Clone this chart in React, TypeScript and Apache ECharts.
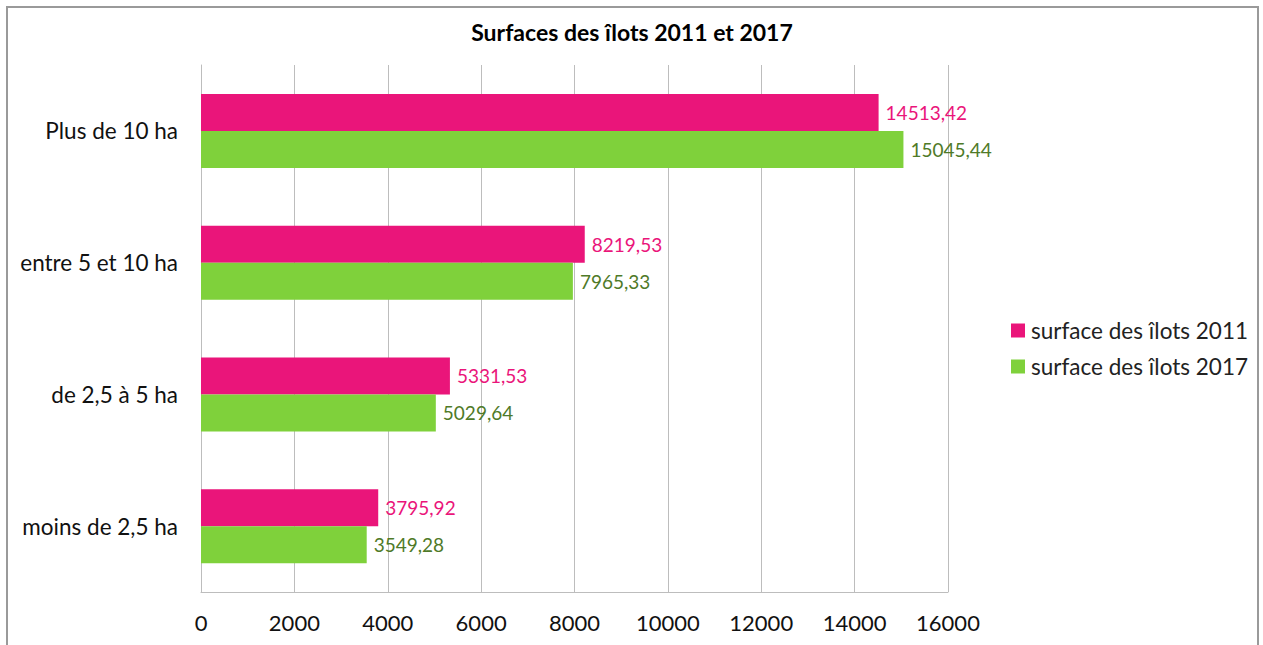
import React, { useEffect, useRef } from "react";
import * as echarts from "echarts";

const categories = ["moins de 2,5 ha", "de 2,5 à 5 ha", "entre 5 et 10 ha", "Plus de 10 ha"];
const values2011 = [3795.92, 5331.53, 8219.53, 14513.42];
const values2017 = [3549.28, 5029.64, 7965.33, 15045.44];
const seriesNames = ["surface des îlots 2011", "surface des îlots 2017"];

const FONT = "Lato, 'Open Sans', sans-serif";
const fmt = (v: number) => v.toFixed(2).replace(".", ",");

export default function App() {
  const ref = useRef<HTMLDivElement>(null);
  useEffect(() => {
    document.body.style.margin = "0";
    const chart = echarts.init(ref.current!, undefined, { renderer: "svg" });
    chart.setOption({
      animation: false,
      backgroundColor: "#ffffff",
      textStyle: { fontFamily: FONT },
      title: {
        text: "Surfaces des îlots 2011 et 2017",
        left: 627,
        textAlign: "center",
        top: 15,
        textStyle: { fontFamily: FONT, fontSize: 23, fontWeight: "bold", color: "#000" },
      },
      graphic: [
        {
          type: "rect",
          shape: { x: 7, y: 7, width: 1251, height: 660 },
          style: { fill: "none", stroke: "#9a9a9a", lineWidth: 2 },
          silent: true,
        },
      ],
      legend: {
        orient: "vertical",
        left: 1006,
        top: 314,
        itemWidth: 14,
        itemHeight: 14,
        itemGap: 13,
        data: seriesNames,
        icon: "rect",
        textStyle: { fontFamily: FONT, fontSize: 22.5, color: "#222", padding: [0, 0, 0, 1] },
      },
      grid: { left: 201, right: 315, top: 65, bottom: 53, containLabel: false },
      xAxis: {
        type: "value",
        min: 0,
        max: 16000,
        interval: 2000,
        axisLine: { show: true, lineStyle: { color: "#bdbdbd", width: 1 } },
        axisTick: { show: false },
        splitLine: { show: true, lineStyle: { color: "#bdbdbd", width: 1 } },
        axisLabel: {
          fontFamily: FONT,
          fontSize: 22,
          color: "#111",
          margin: 19,
          formatter: (v: number) => String(v),
        },
      },
      yAxis: {
        type: "category",
        data: categories,
        axisLine: { show: true, lineStyle: { color: "#bdbdbd", width: 1 } },
        axisTick: { show: false },
        axisLabel: { fontFamily: FONT, fontSize: 22.5, color: "#111", margin: 23 },
      },
      series: [
        {
          name: seriesNames[0],
          type: "bar",
          data: values2011,
          barWidth: 37,
          barGap: "0%",
          itemStyle: { color: "#EA157A" },
          label: {
            show: true,
            position: "right",
            distance: 7,
            formatter: (p: any) => fmt(p.value),
            fontFamily: FONT,
            fontSize: 19,
            color: "#EA157A",
          },
          z: 3,
        },
        {
          name: seriesNames[1],
          type: "bar",
          data: values2017,
          barWidth: 37,
          barGap: "0%",
          itemStyle: { color: "#7FD13B" },
          label: {
            show: true,
            position: "right",
            distance: 7,
            formatter: (p: any) => fmt(p.value),
            fontFamily: FONT,
            fontSize: 19,
            color: "#4F7A28",
          },
          z: 3,
        },
      ],
    });
    return () => chart.dispose();
  }, []);
  return <div ref={ref} style={{ width: 1263, height: 645 }} />;
}
